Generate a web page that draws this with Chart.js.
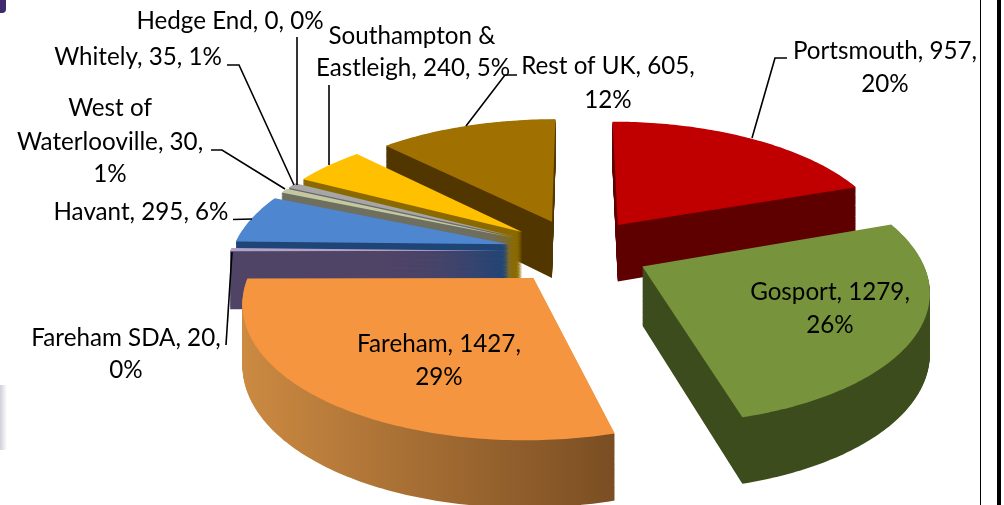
<!DOCTYPE html>
<html>
<head>
<meta charset="utf-8">
<script src="https://cdn.jsdelivr.net/npm/chart.js@4"></script>
<style>
  html, body { margin: 0; padding: 0; background: #fff; }
  canvas { display: block; }
</style>
</head>
<body>
<canvas id="graficoPizza" width="1004" height="505"></canvas>
<script>
const categories = ["Portsmouth", "Gosport", "Fareham", "Fareham SDA", "Havant",
  "West of Waterlooville", "Whitely", "Hedge End", "Southampton & Eastleigh", "Rest of UK"];
const values = [957, 1279, 1427, 20, 295, 30, 35, 0, 240, 605];
const topColors = ["#c00000", "#77933c", "#f5953f", "#b3a2c7", "#4f86d0",
  "#c4c8a0", "#a6a6a6", "#7f7f7f", "#ffc000", "#a07000"];
const wallColors = [["#5e0000", "#5e0000"], ["#3c4c1c", "#3c4c1c"], ["#cc8a42", "#7a4e23"],
  ["#4f4366", "#4f4366"], ["#1f4476", "#1f4476"], ["#6f6f5f", "#6f6f5f"],
  ["#6a6a6a", "#6a6a6a"], ["#555555", "#555555"], ["#8a6a00", "#8a6a00"], ["#523600", "#523600"]];

// text lines: [text, centre x, baseline y]
const labelLines = [
  ["Hedge End, 0, 0%", 230, 29],
  ["Whitely, 35, 1%", 138, 65],
  ["West of", 110, 116],
  ["Waterlooville, 30,", 110, 150],
  ["1%", 110, 182],
  ["Havant, 295, 6%", 141, 220],
  ["Fareham SDA, 20,", 126, 346],
  ["0%", 126, 378],
  ["Southampton &", 412, 44],
  ["Eastleigh, 240, 5%", 413, 76],
  ["Rest of UK, 605,", 608, 74],
  ["12%", 608, 108],
  ["Portsmouth, 957,", 885, 59],
  ["20%", 885, 92],
  ["Gosport, 1279,", 830, 300],
  ["26%", 830, 333],
  ["Fareham, 1427,", 439, 352],
  ["29%", 439, 385]
];
const leaderLines = [
  [[297, 37], [297, 185]],
  [[227, 65], [239, 65], [294, 185]],
  [[211, 150], [222, 150], [285, 189]],
  [[233, 219.5], [252, 219]],
  [[226, 345], [232, 252]],
  [[329, 85], [329, 165]],
  [[517, 75], [505, 75], [466, 126]],
  [[787, 58], [775, 58], [752, 138]]
];

// the 3D look: tilted, exploded pie seen in perspective
const centerX = 578, centerY = 251, pieRadius = 260, tilt = 0.46;

function project(x, y, h) {
  const s = 1 / (0.94 - 0.00057 * y);
  const depth = 58 + y * 0.03;
  return [centerX + x * s, centerY + tilt * y * s + h * depth];
}

function slicePoints(arc) {
  const mid = (arc.startAngle + arc.endAngle) / 2;
  const ox = Math.cos(mid) * arc.options.offset;
  const oy = Math.sin(mid) * arc.options.offset;
  const pts = [[ox, oy]];
  const steps = Math.max(2, Math.ceil((arc.endAngle - arc.startAngle) * 60));
  for (let i = 0; i <= steps; i++) {
    const a = arc.startAngle + (arc.endAngle - arc.startAngle) * i / steps;
    pts.push([ox + Math.cos(a) * pieRadius, oy + Math.sin(a) * pieRadius]);
  }
  return pts;
}

function fillSlice(ctx, pts, h, color) {
  ctx.beginPath();
  pts.forEach((p, i) => {
    const q = project(p[0], p[1], h);
    if (i === 0) ctx.moveTo(q[0], q[1]); else ctx.lineTo(q[0], q[1]);
  });
  ctx.closePath();
  ctx.fillStyle = color;
  ctx.fill();
}

const pie3d = {
  id: "pie3d",
  beforeDatasetsDraw(chart) {
    const ctx = chart.ctx;
    const arcs = chart.getDatasetMeta(0).data;
    const slices = [];
    arcs.forEach((arc, i) => {
      if (values[i] === 0) return;
      const pts = slicePoints(arc);
      slices.push({ i, pts, apex: project(pts[0][0], pts[0][1], 0)[1] });
    });
    slices.sort((a, b) => a.apex - b.apex);
    ctx.save();
    slices.forEach(({ i, pts }) => {
      const xs = pts.map(p => project(p[0], p[1], 0)[0]);
      const grad = ctx.createLinearGradient(Math.min(...xs), 0, Math.max(...xs), 0);
      grad.addColorStop(0, wallColors[i][0]);
      grad.addColorStop(1, wallColors[i][1]);
      for (let t = 70; t >= 1; t--) fillSlice(ctx, pts, t / 70, grad);
      fillSlice(ctx, pts, 0, topColors[i]);
    });
    ctx.restore();
    return false;
  },
  afterDraw(chart) {
    const ctx = chart.ctx;
    ctx.save();
    // bits of the slide around the chart
    ctx.fillStyle = "#000";
    ctx.fillRect(980, 0, 1, 505);
    ctx.fillRect(997, 0, 4, 505);
    ctx.fillStyle = "#3f2a6e";
    ctx.beginPath();
    ctx.roundRect(-6, -6, 12, 19, 4);
    ctx.fill();
    const shade = ctx.createLinearGradient(0, 0, 7, 0);
    shade.addColorStop(0, "#cfcfda");
    shade.addColorStop(1, "#ffffff");
    ctx.fillStyle = shade;
    ctx.fillRect(0, 385, 7, 65);

    ctx.strokeStyle = "#000";
    ctx.lineWidth = 1.6;
    leaderLines.forEach(line => {
      ctx.beginPath();
      line.forEach((p, i) => i === 0 ? ctx.moveTo(p[0], p[1]) : ctx.lineTo(p[0], p[1]));
      ctx.stroke();
    });

    ctx.fillStyle = "#000";
    ctx.font = "24.2px Lato";
    ctx.textAlign = "center";
    ctx.textBaseline = "alphabetic";
    labelLines.forEach(l => ctx.fillText(l[0], l[1], l[2]));
    ctx.restore();
  }
};

new Chart(document.getElementById("graficoPizza"), {
  type: "pie",
  data: {
    labels: categories,
    datasets: [{
      data: values,
      backgroundColor: topColors,
      borderWidth: 0,
      offset: 67
    }]
  },
  options: {
    responsive: false,
    animation: false,
    plugins: {
      legend: { display: false },
      tooltip: { enabled: false }
    }
  },
  plugins: [pie3d]
});
</script>
</body>
</html>
